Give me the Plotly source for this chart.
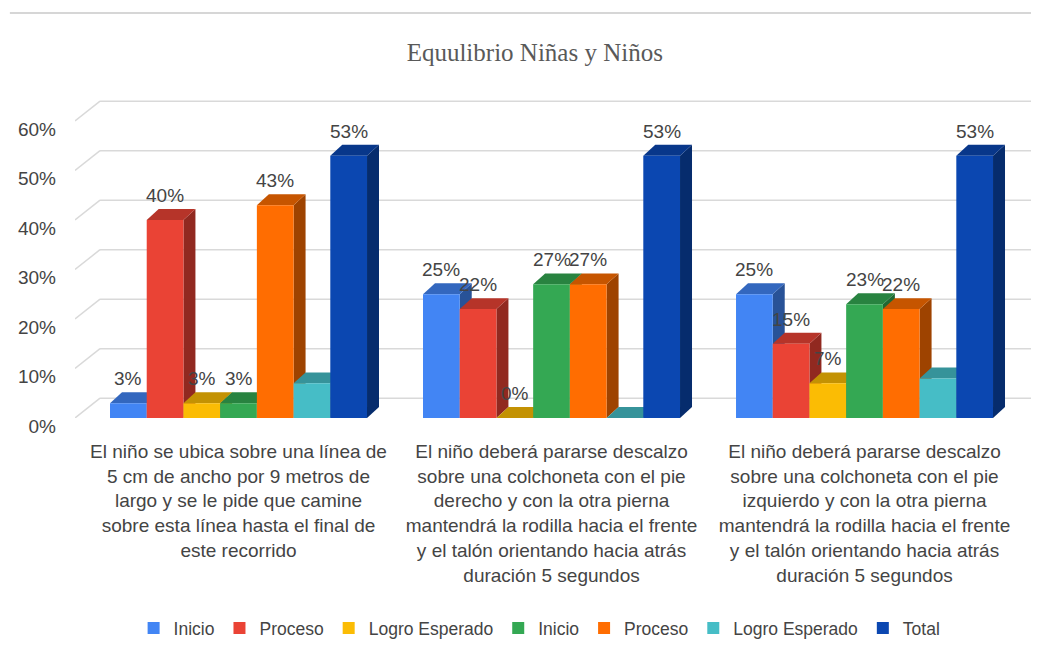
import plotly.graph_objects as go

# ---------------- data ----------------
categories = [
    "El niño se ubica sobre una línea de<br>5 cm de ancho por 9 metros de<br>largo y se le pide que camine<br>sobre esta línea hasta el final de<br>este recorrido",
    "El niño deberá pararse descalzo<br>sobre una colchoneta con el pie<br>derecho y con la otra pierna<br>mantendrá la rodilla hacia el frente<br>y el talón orientando hacia atrás<br>duración 5 segundos",
    "El niño deberá pararse descalzo<br>sobre una colchoneta con el pie<br>izquierdo y con la otra pierna<br>mantendrá la rodilla hacia el frente<br>y el talón orientando hacia atrás<br>duración 5 segundos",
]
series_names = ["Inicio", "Proceso", "Logro Esperado", "Inicio", "Proceso", "Logro Esperado", "Total"]
inicio_1 = [0.03, 0.25, 0.25]
proceso_1 = [0.40, 0.22, 0.15]
logro_1 = [0.03, 0.00, 0.07]
inicio_2 = [0.03, 0.27, 0.23]
proceso_2 = [0.43, 0.27, 0.22]
logro_2 = [0.07, 0.00, 0.08]
total = [0.53, 0.53, 0.53]
series_values = [inicio_1, proceso_1, logro_1, inicio_2, proceso_2, logro_2, total]
show_labels = [True, True, True, True, True, False, True]
colors = ["#4285F4", "#EA4335", "#FBBC04", "#34A853", "#FF6D01", "#46BDC6", "#0B47B1"]
y_ticks = [0, 0.1, 0.2, 0.3, 0.4, 0.5, 0.6]
y_ticktext = ["0%", "10%", "20%", "30%", "40%", "50%", "60%"]

# ---------------- style ----------------
FONT = "Liberation Sans, Arial, sans-serif"
TXT = "#444444"
n_series = len(series_names)
bar_w = 0.1173          # width of each bar (x units)
dx3d, dy3d = 0.0383, 0.022   # bar depth projection
wall_dx, wall_dy = 0.08, 0.04  # back wall offset for gridlines
x_min, x_max = -0.5224, 2.583
y_max = 0.6525


def shade(hexcol, f):
    h = hexcol.lstrip("#")
    r, g, b = (int(h[i:i + 2], 16) for i in (0, 2, 4))
    return "#%02x%02x%02x" % (int(r * f), int(g * f), int(b * f))


fig = go.Figure()
x_idx = list(range(len(categories)))
for j, (name, vals, col) in enumerate(zip(series_names, series_values, colors)):
    fig.add_trace(go.Bar(
        x=x_idx, y=vals, name=name,
        width=bar_w, offset=(j - n_series / 2) * bar_w,
        marker=dict(color=col, line=dict(width=0)),
        hoverinfo="skip",
    ))

shapes = []
# back-wall gridlines with perspective connectors
for t in y_ticks:
    shapes.append(dict(type="line", xref="x", yref="y",
                       x0=x_min + wall_dx, x1=x_max, y0=t + wall_dy, y1=t + wall_dy,
                       line=dict(color="#d9d9d9", width=1.5), layer="below"))
    shapes.append(dict(type="line", xref="x", yref="y",
                       x0=x_min, x1=x_min + wall_dx, y0=t, y1=t + wall_dy,
                       line=dict(color="#d9d9d9", width=1.5), layer="below"))

side_shapes, top_shapes = [], []
annotations = []
for j, (vals, col) in enumerate(zip(series_values, colors)):
    for i, v in enumerate(vals):
        xl = i + (j - n_series / 2) * bar_w
        xr = xl + bar_w
        side_shapes.append(dict(
            type="path", xref="x", yref="y", layer="below",
            path=f"M {xr},0 L {xr + dx3d},{dy3d} L {xr + dx3d},{v + dy3d} L {xr},{v} Z",
            fillcolor=shade(col, 0.62), line=dict(width=0)))
        top_shapes.append(dict(
            type="path", xref="x", yref="y", layer="below",
            path=f"M {xl},{v} L {xl + dx3d},{v + dy3d} L {xr + dx3d},{v + dy3d} L {xr},{v} Z",
            fillcolor=shade(col, 0.78), line=dict(width=0)))
        if show_labels[j]:
            annotations.append(dict(
                x=(xl + xr) / 2, y=v + dy3d, xref="x", yref="y",
                text=f"{round(v * 100)}%", showarrow=False, yanchor="bottom", yshift=1,
                font=dict(family=FONT, size=19, color=TXT)))

shapes += side_shapes + top_shapes
# outer top border line of the chart image
shapes.append(dict(type="line", xref="paper", yref="paper",
                   x0=-0.067, x1=1.0, y0=1.254, y1=1.254,
                   line=dict(color="#d6d6d6", width=2)))

fig.update_layout(
    width=1039, height=655,
    margin=dict(l=67, r=0, t=87, b=245),
    paper_bgcolor="white", plot_bgcolor="white",
    barmode="overlay",
    title=dict(text="Equulibrio Niñas y Niños", x=0.507, xanchor="center",
               y=1 - 44 / 655, yanchor="middle",
               font=dict(family="Liberation Serif, Times New Roman, serif", size=25, color="#595959")),
    xaxis=dict(range=[x_min, x_max], tickvals=x_idx, ticktext=categories,
               showgrid=False, zeroline=False, showline=False, ticks="",
               tickfont=dict(family=FONT, size=19, color=TXT), ticklabelstandoff=20),
    yaxis=dict(range=[0, y_max], tickvals=y_ticks, ticktext=y_ticktext,
               showgrid=False, zeroline=False, showline=False, ticks="",
               tickfont=dict(family=FONT, size=19, color=TXT), ticklabelstandoff=18,
               ticklabelshift=8),
    legend=dict(orientation="h", x=0.478, xanchor="center", yref="container",
                y=1 - 620 / 655, yanchor="middle",
                font=dict(family=FONT, size=17.5, color=TXT), itemwidth=30),
    shapes=shapes,
    annotations=annotations,
    showlegend=True,
)

fig.write_html("out.html")
